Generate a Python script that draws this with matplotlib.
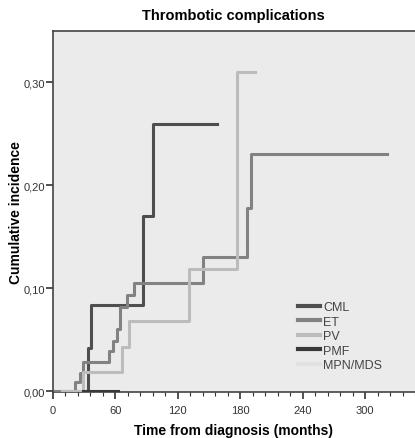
import numpy as np
import matplotlib.pyplot as plt
from matplotlib.ticker import MultipleLocator, FuncFormatter

plt.rcParams['font.family'] = ['Liberation Sans', 'DejaVu Sans']

# step curves (time in months, cumulative incidence)
cml_t = [30, 33.6, 36.8, 87.2, 96, 158]
cml_y = [0, 0.042, 0.084, 0.170, 0.259, 0.259]

et_t = [2, 21, 26, 29.5, 54, 58, 62, 65, 71, 78, 144, 187, 190, 321]
et_y = [0, 0.009, 0.018, 0.028, 0.039, 0.049, 0.060, 0.082, 0.093, 0.105, 0.130, 0.178, 0.230, 0.230]

pv_t = [8.6, 29.5, 67, 73, 131, 177, 194]
pv_y = [0, 0.0185, 0.043, 0.068, 0.119, 0.310, 0.310]

pmf_t = [29, 63]
pmf_y = [0, 0]

mds_t = [10, 45]
mds_y = [0, 0]

series = [
    ('CML', cml_t, cml_y, '#4e4e4e'),
    ('ET', et_t, et_y, '#828282'),
    ('PV', pv_t, pv_y, '#bcbcbc'),
    ('PMF', pmf_t, pmf_y, '#393939'),
    ('MPN/MDS', mds_t, mds_y, '#e2e2e2'),
]

fig = plt.figure(figsize=(4.15, 4.39), dpi=100)
ax = fig.add_axes([0.127, 0.104, 0.873, 0.824])
ax.set_facecolor('#ebebeb')

for i, (name, t, y, c) in enumerate(series):
    z = 1 if name == 'MPN/MDS' else 2 + i
    ax.plot(t, y, drawstyle='steps-post', color=c, lw=2.2, label=name, zorder=z)

ax.set_xlim(0, 348)
ax.set_ylim(-0.0012, 0.350)
ax.xaxis.set_major_locator(MultipleLocator(60))
ax.xaxis.set_minor_locator(MultipleLocator(12))
ax.yaxis.set_major_locator(MultipleLocator(0.1))
ax.yaxis.set_major_formatter(FuncFormatter(lambda v, p: f'{v:.2f}'.replace('.', ',')))

ax.tick_params(axis='both', which='major', length=5, width=1.2, color='#333333',
               labelsize=8, labelcolor='#333333', pad=0.5)
ax.tick_params(axis='x', which='major', pad=4)
ax.tick_params(axis='x', which='minor', length=3, width=0.8, color='#333333')

for s in ['left', 'bottom', 'top']:
    ax.spines[s].set_color('#444444')
    ax.spines[s].set_linewidth(1.2)
ax.spines['right'].set_visible(False)

ax.set_title('Thrombotic complications', fontsize=10.5, fontweight='bold', pad=8)
ax.set_xlabel('Time from diagnosis (months)', fontsize=10, fontweight='bold', labelpad=6)
ax.set_ylabel('Cumulative incidence', fontsize=10, fontweight='bold')
ax.yaxis.set_label_coords(-0.082, 0.5)

leg = ax.legend(loc='upper left', bbox_to_anchor=(0.678, 0.252), frameon=False,
                fontsize=9, handlelength=1.7, handletextpad=0.3, labelspacing=0.2,
                borderpad=0, borderaxespad=0)
for t in leg.get_texts():
    t.set_color('#444444')
for h in leg.get_lines():
    h.set_linewidth(3)

fig.savefig('out.png', dpi=100)
